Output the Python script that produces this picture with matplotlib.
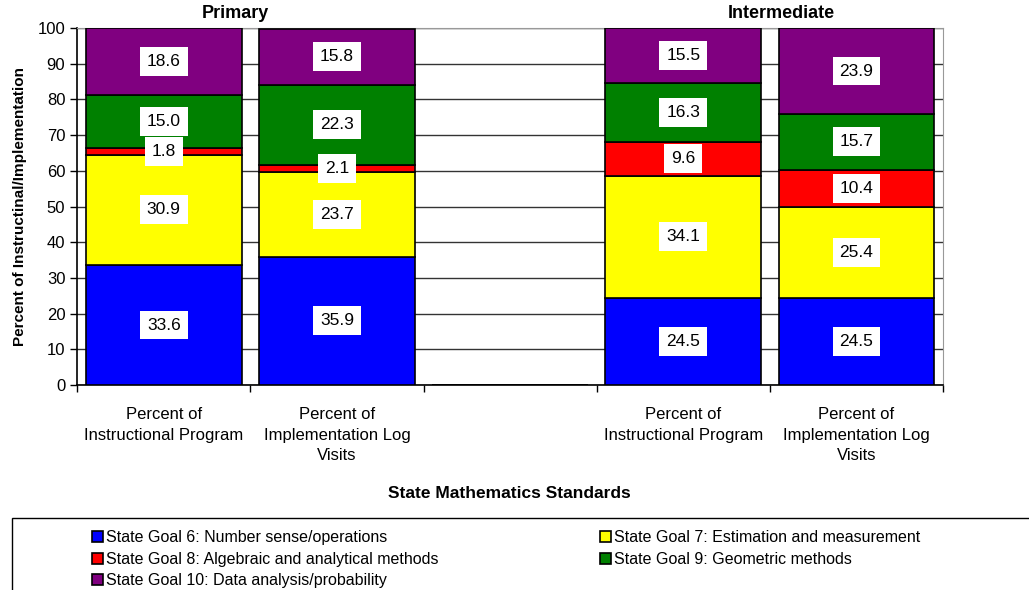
import numpy as np
import matplotlib.pyplot as plt
from matplotlib.patches import Rectangle

# slots: Primary x2, empty, Intermediate x2
categories = ["Percent of\nInstructional Program", "Percent of\nImplementation Log\nVisits", "",
              "Percent of\nInstructional Program", "Percent of\nImplementation Log\nVisits"]
goal6 = [33.6, 35.9, 0, 24.5, 24.5]
goal7 = [30.9, 23.7, 0, 34.1, 25.4]
goal8 = [1.8, 2.1, 0, 9.6, 10.4]
goal9 = [15.0, 22.3, 0, 16.3, 15.7]
goal10 = [18.6, 15.8, 0, 15.5, 23.9]
series_names = ["State Goal 6: Number sense/operations",
                "State Goal 7: Estimation and measurement",
                "State Goal 8: Algebraic and analytical methods",
                "State Goal 9: Geometric methods",
                "State Goal 10: Data analysis/probability"]
colors = ["#0000FF", "#FFFF00", "#FF0000", "#008000", "#800080"]

plt.rcParams['font.family'] = ['Liberation Sans', 'DejaVu Sans']

fig = plt.figure(figsize=(10.29, 5.9), dpi=100)
ax = fig.add_axes([0.075, 0.3475, 0.8415, 0.605])

x = np.arange(len(categories))
bottom = np.zeros(len(categories))
handles = []
for vals, col, name in zip([goal6, goal7, goal8, goal9, goal10], colors, series_names):
    vals = np.array(vals)
    bars = ax.bar(x, vals, 0.9, bottom=bottom, color=col, edgecolor='black', linewidth=1.2,
                  label=name, zorder=3)
    handles.append(bars)
    for xi, v, b in zip(x, vals, bottom):
        if v > 0:
            ax.text(xi, b + v / 2, f"{v:.1f}", ha='center', va='center', fontsize=12.5, zorder=5,
                    bbox=dict(facecolor='white', edgecolor='none', pad=5))
    bottom += vals

ax.set_xlim(-0.5, len(categories) - 0.5)
ax.set_ylim(0, 100)
ax.set_yticks(np.arange(0, 101, 10))
ax.tick_params(axis='y', labelsize=12, length=5, width=1)
ax.set_xticks(np.arange(-0.5, len(categories), 1))
ax.set_xticklabels([])
ax.tick_params(axis='x', length=5, width=1)
ax.set_xticks(x, minor=True)
ax.set_xticklabels(categories, minor=True, fontsize=12, linespacing=1.45)
ax.tick_params(axis='x', which='minor', length=0, pad=16)
ax.yaxis.grid(True, color='#333333', linewidth=1, zorder=0)
for s in ['top', 'right']:
    ax.spines[s].set_color('#999999')
ax.spines['left'].set_linewidth(1.2)
ax.spines['bottom'].set_linewidth(1.2)

ax.set_ylabel("Percent of Instructinal/Implementation", fontsize=11, fontweight='bold', labelpad=8)
fig.text(0.4955, 0.163, "State Mathematics Standards", ha='center', va='center', fontsize=12.5,
         fontweight='bold')
fig.text(0.229, 0.977, "Primary", ha='center', va='center', fontsize=13, fontweight='bold')
fig.text(0.759, 0.977, "Intermediate", ha='center', va='center', fontsize=13, fontweight='bold')

# legend frame
fig.patches.append(Rectangle((12 / 1029, -0.01), 1.0, (590 - 518) / 590 + 0.01,
                             transform=fig.transFigure, facecolor='white', edgecolor='black',
                             linewidth=1))
leg_kw = dict(frameon=False, handlelength=0.7, handleheight=0.7,
              handletextpad=0.15, labelspacing=0.42, borderpad=0,
              prop={'size': 11.5})
fig.legend([handles[0], handles[2], handles[4]],
           [series_names[0], series_names[2], series_names[4]],
           loc='upper left', bbox_to_anchor=(84 / 1029, 1 - 522 / 590), **leg_kw)
fig.legend([handles[1], handles[3]], [series_names[1], series_names[3]],
           loc='upper left', bbox_to_anchor=(592 / 1029, 1 - 522 / 590), **leg_kw)

fig.savefig("out.png", dpi=100)
